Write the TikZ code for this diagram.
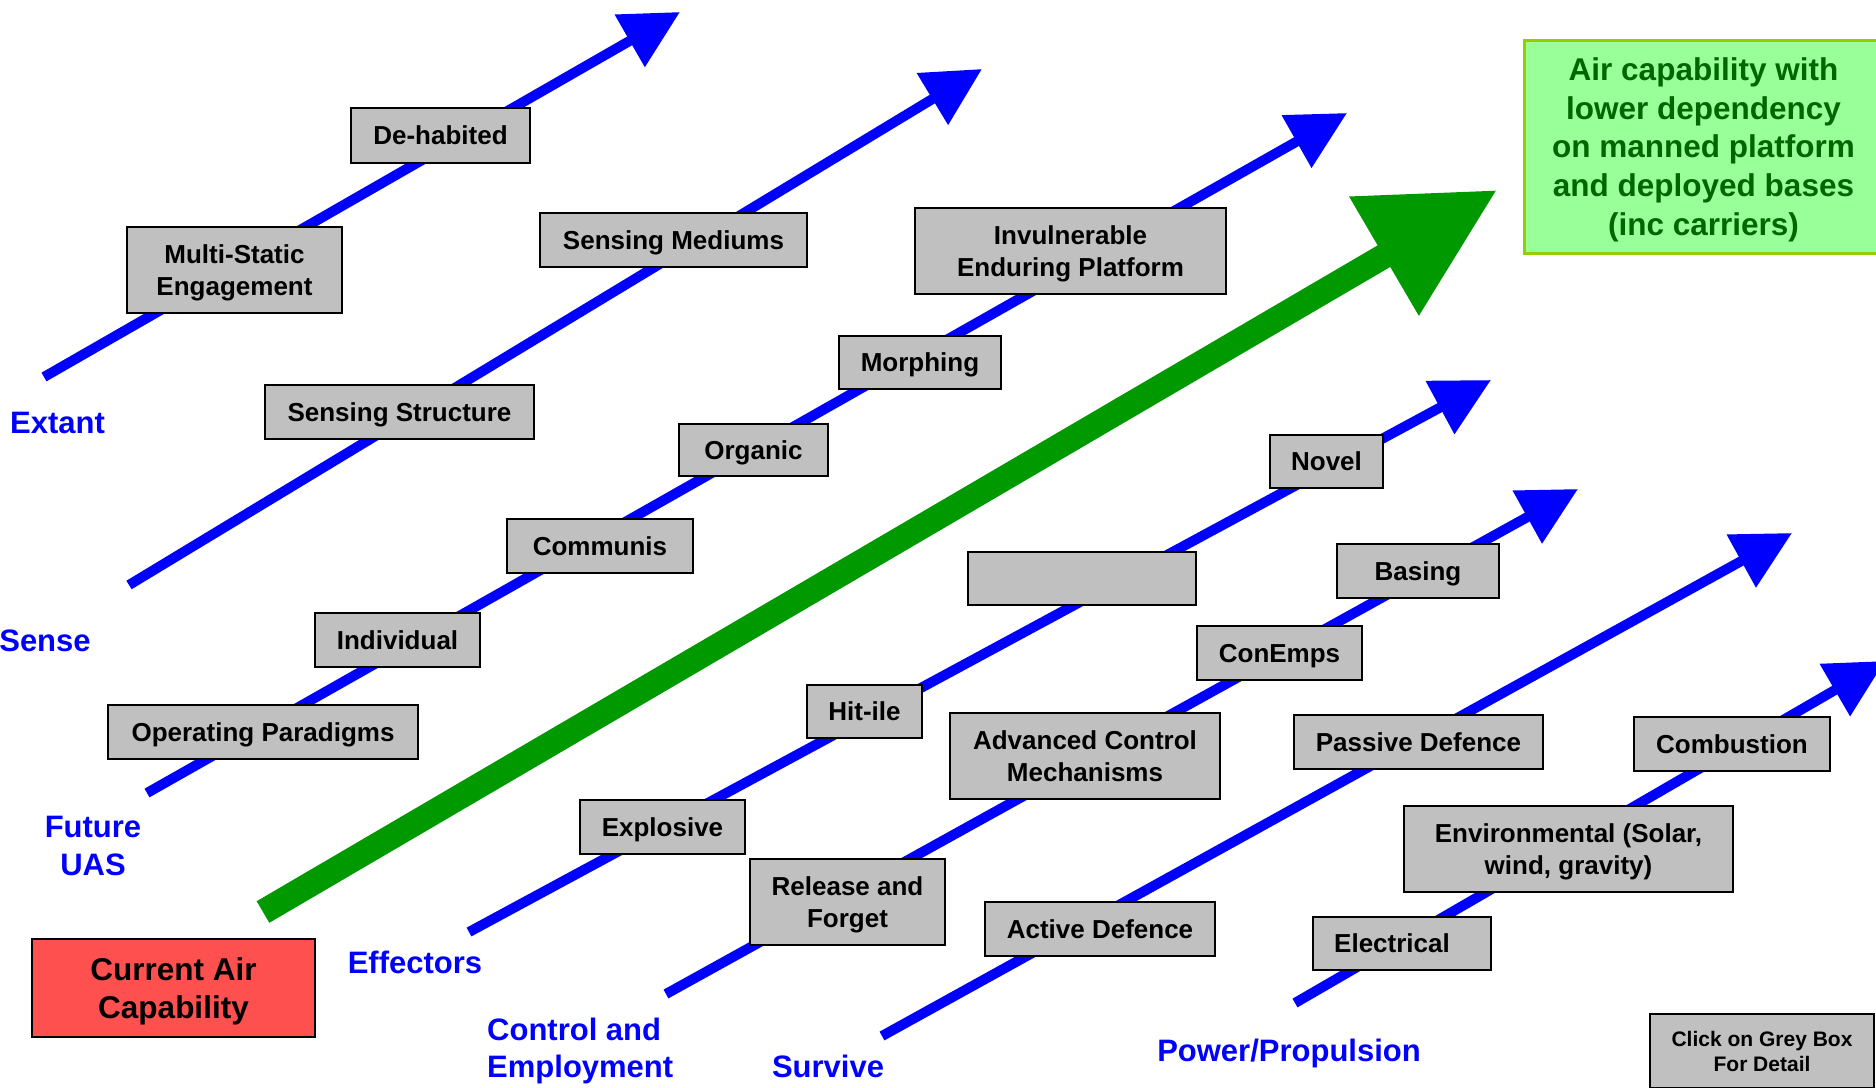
\documentclass[tikz,border=0pt]{standalone}
\usepackage{fontspec}
\setmainfont{Liberation Sans}
\usetikzlibrary{arrows.meta}
\definecolor{boxgrey}{HTML}{C0C0C0}
\definecolor{capred}{HTML}{FF5050}
\definecolor{goalfill}{HTML}{99FF99}
\definecolor{goalrim}{HTML}{99CC00}
\definecolor{goaltext}{HTML}{006600}
\definecolor{mainflow}{HTML}{009900}

\begin{document}
\begin{tikzpicture}[x=1pt, y=-1pt,
    flow/.style={draw=blue, line width=10pt, -{Triangle[length=58pt, width=58pt]}},
    grey/.style={draw, line width=1.5pt, fill=boxgrey, align=center, inner sep=0pt, text depth=0pt, font=\fontsize{26}{32}\selectfont\bfseries},
    lbl/.style={text=blue, align=center, inner sep=0pt, text depth=0pt, font=\fontsize{31}{37.5}\selectfont\bfseries}]
    \clip (0,0) rectangle (1876,1087);
    % arrow ends
    \coordinate (ext0) at (44,377);    \coordinate (ext1) at (680,12);
    \coordinate (sen0) at (129,585);   \coordinate (sen1) at (982,69);
    \coordinate (fut0) at (147,793);   \coordinate (fut1) at (1347,113);
    \coordinate (eff0) at (469,932);   \coordinate (eff1) at (1491,380);
    \coordinate (con0) at (666,994);   \coordinate (con1) at (1578,489);
    \coordinate (sur0) at (882,1036);  \coordinate (sur1) at (1792,533);
    \coordinate (pow0) at (1295,1003); \coordinate (pow1) at (1885,661);
    \coordinate (cur0) at (263,912);   \coordinate (cur1) at (1497,190);
    \foreach \a in {ext,sen,fut,eff,con,sur,pow}
        \draw[flow] (\a0) -- (\a1);
    \draw[draw=mainflow, line width=25pt, -{Triangle[length=131pt, width=131pt]}] (cur0) -- (cur1);
    % grey boxes
    \node[grey, minimum width=179pt, minimum height=55pt] (dehab) at (440.5,135.5) {De-habited};
    \node[grey, minimum width=215pt, minimum height=86pt] (multi) at (234.5,270) {Multi-Static\\Engagement};
    \node[grey, minimum width=267pt, minimum height=54pt] (smed) at (673.5,240) {Sensing Mediums};
    \node[grey, minimum width=269pt, minimum height=54pt] (sstr) at (399.5,412) {Sensing Structure};
    \node[grey, minimum width=311pt, minimum height=86pt] (invul) at (1070.5,251) {Invulnerable\\Enduring Platform};
    \node[grey, minimum width=162pt, minimum height=53pt] (morph) at (920,362.5) {Morphing};
    \node[grey, minimum width=149pt, minimum height=52pt] (organ) at (753.5,450) {Organic};
    \node[grey, minimum width=186pt, minimum height=54pt] (commu) at (600,546) {Communis};
    \node[grey, minimum width=165pt, minimum height=54pt] (indiv) at (397.5,640) {Individual};
    \node[grey, minimum width=310pt, minimum height=54pt] (opera) at (263,732) {Operating Paradigms};
    \node[grey, minimum width=113pt, minimum height=53pt] (novel) at (1326.5,461.5) {Novel};
    \node[grey, minimum width=228pt, minimum height=53pt] (blank) at (1082,578.5) {};
    \node[grey, minimum width=115pt, minimum height=53pt] (hitile) at (864.5,711.5) {Hit-ile};
    \node[grey, minimum width=165pt, minimum height=54pt] (explo) at (662.5,827) {Explosive};
    \node[grey, minimum width=162pt, minimum height=54pt] (basing) at (1418,571) {Basing};
    \node[grey, minimum width=165pt, minimum height=54pt] (conemp) at (1279.5,653) {ConEmps};
    \node[grey, minimum width=270pt, minimum height=86pt] (advctl) at (1085,756) {Advanced Control\\Mechanisms};
    \node[grey, minimum width=195pt, minimum height=86pt] (relfor) at (847.5,902) {Release and\\Forget};
    \node[grey, minimum width=249pt, minimum height=54pt] (passive) at (1418.5,742) {Passive Defence};
    \node[grey, minimum width=230pt, minimum height=54pt] (active) at (1100,929) {Active Defence};
    \node[grey, minimum width=196pt, minimum height=54pt] (combus) at (1732,744) {Combustion};
    \node[grey, minimum width=329pt, minimum height=86pt] (enviro) at (1568.5,849) {Environmental (Solar,\\wind, gravity)};
    \node[grey, minimum width=178pt, minimum height=53pt] (electr) at (1402,943.5) {Electrical\kern20pt};
    \node[grey, minimum width=224pt, minimum height=74pt, font=\fontsize{21}{25}\selectfont\bfseries] (click) at (1762,1051) {Click on Grey Box\\For Detail};
    % start and goal
    \node[draw, line width=1.5pt, fill=capred, align=center, inner sep=0pt, text depth=0pt, minimum width=283pt, minimum height=98pt,
          font=\fontsize{31.5}{38.5}\selectfont\bfseries] (current) at (173.5,988) {Current Air\\Capability};
    \node[draw=goalrim, line width=3pt, fill=goalfill, text=goaltext, align=center, inner sep=0pt, text depth=0pt, minimum width=359pt, minimum height=213pt,
          font=\fontsize{31.5}{38.6}\selectfont\bfseries] (goal) at (1703.5,146.5) {Air capability with\\lower dependency\\on manned platform\\and deployed bases\\(inc carriers)};
    % stream labels
    \node[lbl] (extant) at (57.5,423) {Extant};
    \node[lbl] (sense) at (45,641) {Sense};
    \node[lbl] (future) at (93,846) {Future\\UAS};
    \node[lbl] (effect) at (415,962) {Effectors};
    \node[lbl, align=left, anchor=west] (control) at (487,1048) {Control and\\Employment};
    \node[lbl] (survive) at (828,1066) {Survive};
    \node[lbl] (power) at (1289,1050) {Power/Propulsion};
\end{tikzpicture}
\end{document}
